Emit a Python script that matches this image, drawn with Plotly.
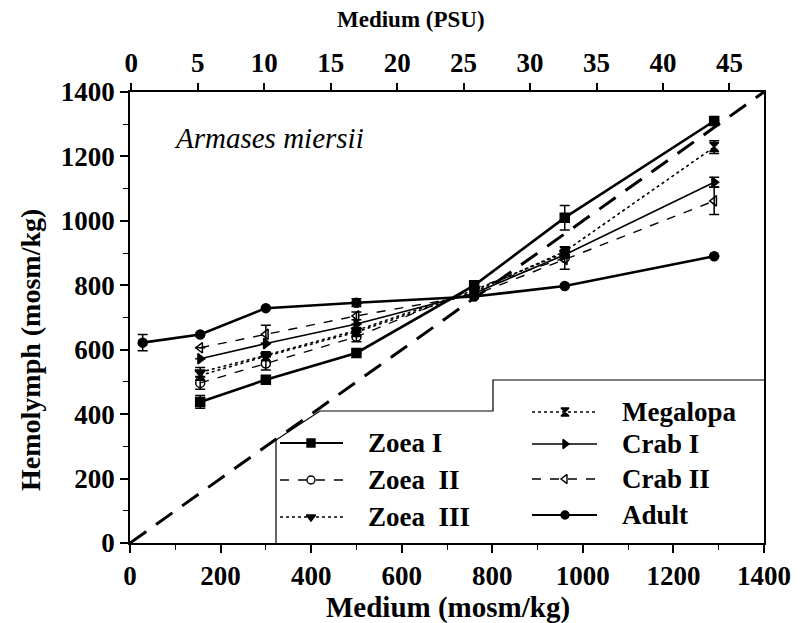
import plotly.graph_objects as go

# ---- data ----
medium_larvae = [155, 300, 500, 760, 960, 1290]
medium_short = [155, 300, 500, 760, 960]
medium_adult = [28, 155, 300, 500, 760, 960, 1290]

zoea1 = [438, 507, 590, 800, 1010, 1310]
zoea1_err = [20, 0, 0, 10, 38, 0]
zoea2 = [497, 557, 640, 790, 885]
zoea2_err = [20, 20, 15, 0, 0]
zoea3 = [530, 583, 660, 785, 900]
zoea3_err = [15, 0, 0, 0, 0]
megalopa = [520, 580, 655, 780, 905, 1229]
megalopa_err = [15, 0, 0, 0, 15, 20]
crab1 = [572, 619, 680, 775, 895, 1120]
crab1_err = [0, 0, 0, 0, 0, 15]
crab2 = [606, 648, 705, 770, 880, 1062]
crab2_err = [0, 28, 12, 0, 30, 42]
adult = [622, 647, 729, 746, 765, 798, 890]
adult_err = [25, 0, 0, 12, 0, 0, 0]

x_ticks = [0, 200, 400, 600, 800, 1000, 1200, 1400]
y_ticks = [0, 200, 400, 600, 800, 1000, 1200, 1400]
psu_ticks = [0, 5, 10, 15, 20, 25, 30, 35, 40, 45]

series = [
    ("Zoea I", medium_larvae, zoea1, zoea1_err, "solid", 2.6, "square", "black"),
    ("Zoea  II", medium_short, zoea2, zoea2_err, "dash", 1.3, "circle-open", "black"),
    ("Zoea  III", medium_short, zoea3, zoea3_err, "dot", 1.5, "triangle-down", "black"),
    ("Megalopa", medium_larvae, megalopa, megalopa_err, "dot", 1.6, "hourglass", "black"),
    ("Crab I", medium_larvae, crab1, crab1_err, "solid", 1.6, "triangle-right", "black"),
    ("Crab II", medium_larvae, crab2, crab2_err, "dash", 1.4, "triangle-left-open", "black"),
    ("Adult", medium_adult, adult, adult_err, "solid", 2.6, "circle", "black"),
]

# plot area geometry in reference pixels (page has 8px body margin)
OFF = 8
L, R, T, B = 130, 764, 92, 543
W, H = 803 - OFF, 623 - OFF
XMAX, YMAX = 1400, 1400


def px2x(px):
    return (px - L) / (R - L) * XMAX


def py2y(py):
    return (B - py) / (B - T) * YMAX


def px2p(px):
    return (px - L) / (R - L)


def py2p(py):
    return (B - py) / (B - T)


FONT = "Liberation Serif, Times New Roman, serif"

fig = go.Figure()

# iso-osmotic line
fig.add_trace(go.Scatter(x=[0, 1400], y=[0, 1400], mode="lines",
                         line=dict(color="black", width=3, dash="20px,12px"),
                         showlegend=False, hoverinfo="skip"))

for name, xs, ys, err, dash, lw, sym, col in series:
    fig.add_trace(go.Scatter(
        x=xs, y=ys, mode="lines+markers", name=name,
        line=dict(color="black", width=lw, dash=dash),
        marker=dict(symbol=sym, size=9, color="black",
                    line=dict(color="black", width=1.5)),
        error_y=dict(type="data", array=err, visible=True, color="black",
                     thickness=1.5, width=5),
        showlegend=False))

# legend border (stepped box)
border_px = [(276, 543), (276, 440), (320, 411), (493, 411), (493, 380), (764, 380)]
path = "M " + " L ".join(f"{px2x(a):.2f},{py2y(b):.2f}" for a, b in border_px)
fig.add_shape(type="path", path=path, xref="x", yref="y",
              line=dict(color="black", width=1.2))

# manual legend
left_rows = [(0, 443), (1, 480), (2, 517)]
right_rows = [(3, 412), (4, 444), (5, 479), (6, 515)]
for rows, x0, x1, xm, xt in [(left_rows, 280, 343, 311, 366),
                             (right_rows, 532, 597, 565, 620)]:
    for idx, py in rows:
        name, xs, ys, err, dash, lw, sym, col = series[idx]
        fig.add_trace(go.Scatter(
            x=[px2x(x0), px2x(x1)], y=[py2y(py), py2y(py)], mode="lines",
            line=dict(color="black", width=min(lw, 1.8), dash=dash),
            showlegend=False, hoverinfo="skip"))
        fig.add_trace(go.Scatter(
            x=[px2x(xm)], y=[py2y(py)], mode="markers",
            marker=dict(symbol=sym, size=8, color="black",
                        line=dict(color="black", width=1.4)),
            showlegend=False, hoverinfo="skip"))
        fig.add_annotation(x=px2p(xt), y=py2p(py), xref="paper", yref="paper",
                           text=f"<b>{name}</b>", showarrow=False,
                           xanchor="left", yanchor="middle",
                           font=dict(family=FONT, size=27, color="black"))

# invisible trace for top axis
fig.add_trace(go.Scatter(x=[0, 45], y=[0, 0], xaxis="x2", mode="markers",
                         marker=dict(opacity=0), showlegend=False,
                         hoverinfo="skip"))

# species label
fig.add_annotation(x=px2p(172), y=py2p(138), xref="paper", yref="paper",
                   text="<i>Armases miersii</i>", showarrow=False,
                   xanchor="left", yanchor="middle",
                   font=dict(family=FONT, size=29, color="black"))

# axis titles
fig.add_annotation(x=px2p(448), y=py2p(607), xref="paper", yref="paper",
                   text="<b>Medium (mosm/kg)</b>", showarrow=False,
                   xanchor="center", yanchor="middle",
                   font=dict(family=FONT, size=29, color="black"))
fig.add_annotation(x=px2p(411), y=py2p(19), xref="paper", yref="paper",
                   text="<b>Medium (PSU)</b>", showarrow=False,
                   xanchor="center", yanchor="middle",
                   font=dict(family=FONT, size=23, color="black"))
fig.add_annotation(x=px2p(30), y=py2p(350), xref="paper", yref="paper",
                   text="<b>Hemolymph (mosm/kg)</b>", showarrow=False,
                   textangle=-90, xanchor="center", yanchor="middle",
                   font=dict(family=FONT, size=28, color="black"))

tickfont = dict(family=FONT, size=27, color="black")
fig.update_layout(
    width=W, height=H,
    margin=dict(l=L - OFF, r=803 - R, t=T - OFF, b=623 - B),
    paper_bgcolor="white", plot_bgcolor="white",
    showlegend=False,
    xaxis=dict(range=[0, XMAX], tickvals=x_ticks,
               ticktext=[f"<b>{v}</b>" for v in x_ticks],
               ticks="outside", ticklen=8, tickwidth=1.5, tickcolor="black",
               minor=dict(dtick=100, ticks="outside", ticklen=5,
                          tickwidth=1.2, tickcolor="black"),
               showline=True, linecolor="black", linewidth=1.8,
               mirror=True, showgrid=False, zeroline=False,
               tickfont=tickfont),
    yaxis=dict(range=[0, YMAX], tickvals=y_ticks,
               ticktext=[f"<b>{v}</b>" for v in y_ticks],
               ticks="outside", ticklen=8, tickwidth=1.5, tickcolor="black",
               minor=dict(dtick=100, ticks="outside", ticklen=5,
                          tickwidth=1.2, tickcolor="black"),
               showline=True, linecolor="black", linewidth=1.8,
               mirror=True, showgrid=False, zeroline=False,
               tickfont=tickfont),
    xaxis2=dict(overlaying="x", side="top", range=[-0.1, 47.6],
                tickvals=psu_ticks,
                ticktext=[f"<b>{v}</b>" for v in psu_ticks],
                ticks="outside", ticklen=8, tickwidth=1.5, tickcolor="black",
                showline=False, showgrid=False, zeroline=False,
                tickfont=tickfont),
)

fig.write_html("out.html")
